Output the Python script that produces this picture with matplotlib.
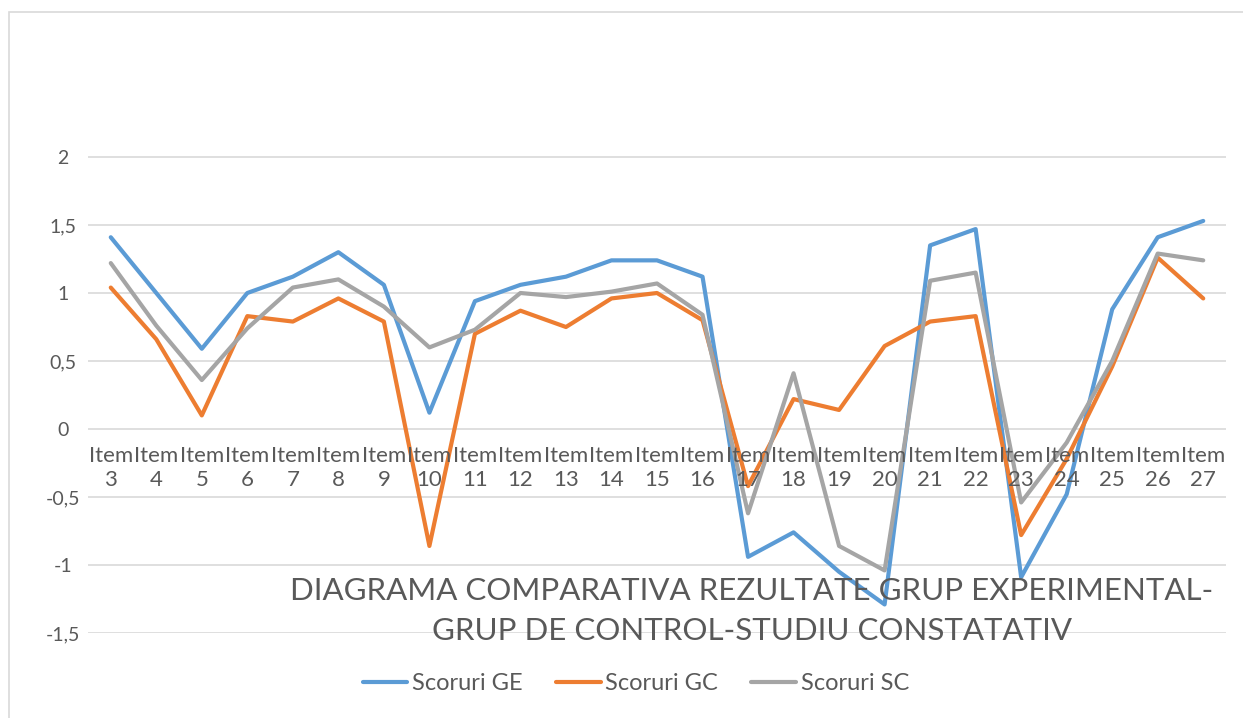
import matplotlib
matplotlib.use("Agg")
import matplotlib.pyplot as plt
from matplotlib.patches import Rectangle
import matplotlib.transforms as mtransforms

plt.rcParams["font.family"] = ["Lato", "DejaVu Sans"]

# Data
items = ["Item\n" + str(n) for n in range(3, 28)]
scoruri_ge = [1.41, 1.0, 0.59, 1.0, 1.12, 1.30, 1.06, 0.12, 0.94, 1.06, 1.12, 1.24, 1.24, 1.12,
              -0.94, -0.76, -1.05, -1.29, 1.35, 1.47, -1.09, -0.48, 0.88, 1.41, 1.53]
scoruri_gc = [1.04, 0.66, 0.10, 0.83, 0.79, 0.96, 0.79, -0.86, 0.70, 0.87, 0.75, 0.96, 1.0, 0.80,
              -0.42, 0.22, 0.14, 0.61, 0.79, 0.83, -0.78, -0.22, 0.46, 1.26, 0.96]
scoruri_sc = [1.22, 0.76, 0.36, 0.74, 1.04, 1.10, 0.90, 0.60, 0.73, 1.0, 0.97, 1.01, 1.07, 0.84,
              -0.62, 0.41, -0.86, -1.04, 1.09, 1.15, -0.54, -0.10, 0.50, 1.29, 1.24]
yticks = [-1.5, -1, -0.5, 0, 0.5, 1, 1.5, 2]
ytick_labels = ["-1,5", "-1", "-0,5", "0", "0,5", "1", "1,5", "2"]

text_col = "#595959"
grid_col = "#D9D9D9"

fig = plt.figure(figsize=(12.43, 7.18), dpi=100)
fig.patches.append(Rectangle((9 / 1243, -0.1), 1.2, 1.1 - 12 / 718, transform=fig.transFigure,
                             fill=False, edgecolor=grid_col, linewidth=1.2))

ax = fig.add_axes([88 / 1243, (718 - 633) / 718, (1226 - 88) / 1243, (633 - 89) / 718])
x = list(range(len(items)))
ax.plot(x, scoruri_ge, color="#5B9BD5", linewidth=3, label="Scoruri GE", solid_capstyle="round")
ax.plot(x, scoruri_gc, color="#ED7D31", linewidth=3, label="Scoruri GC", solid_capstyle="round")
ax.plot(x, scoruri_sc, color="#A5A5A5", linewidth=3, label="Scoruri SC", solid_capstyle="round")

ax.set_xlim(-0.5, len(items) - 0.5)
ax.set_ylim(-1.5, 2.5)
ax.set_yticks(yticks)
ax.set_yticklabels(ytick_labels, fontsize=14, color=text_col, ha="center")
ax.tick_params(axis="y", length=0, pad=18)
ax.set_xticks([])
ax.grid(axis="y", color=grid_col, linewidth=1.2)
ax.set_axisbelow(True)
for s in ax.spines.values():
    s.set_visible(False)

# category labels just below the zero line
off = mtransforms.offset_copy(ax.transData, fig=fig, x=0, y=-12, units="points")
for i, lab in enumerate(items):
    ax.text(i, 0, lab, transform=off, ha="center", va="top", fontsize=16,
            color=text_col, linespacing=1.25)

fig.text(752 / 1243, 1 - 611 / 718,
         "DIAGRAMA COMPARATIVA REZULTATE GRUP EXPERIMENTAL-\nGRUP DE CONTROL-STUDIU CONSTATATIV",
         ha="center", va="center", fontsize=22.5, color=text_col, linespacing=1.55)

leg = fig.legend(loc="center", bbox_to_anchor=(636 / 1243, 1 - 684 / 718), ncol=3,
                 frameon=False, fontsize=17, handlelength=1.9, columnspacing=1.4,
                 handletextpad=0.2)
for t in leg.get_texts():
    t.set_color(text_col)

fig.savefig("out.png", dpi=100)
